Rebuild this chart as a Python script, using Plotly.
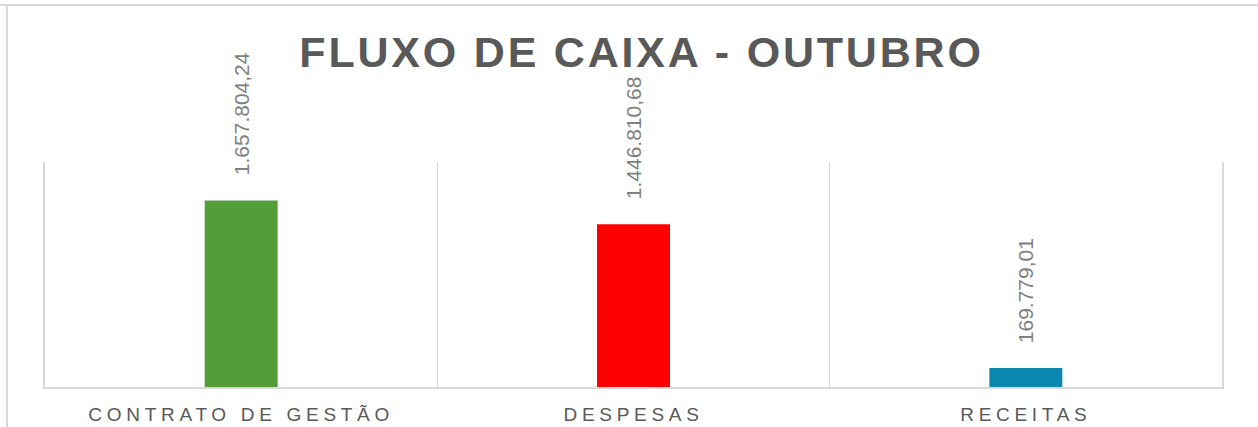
import plotly.graph_objects as go

categories = ["CONTRATO DE GESTÃO", "DESPESAS", "RECEITAS"]
values = [1657804.24, 1446810.68, 169779.01]
value_labels = ["1.657.804,24", "1.446.810,68", "169.779,01"]
colors = ["#549E39", "#FF0000", "#0C87B0"]
title_text = "FLUXO DE CAIXA - OUTUBRO"
y_max = 2000000

W, H = 1258, 427
L, R, T, B = 45, 36, 162, 40

fig = go.Figure()
fig.add_trace(go.Bar(
    x=categories, y=values, marker=dict(color=colors, line=dict(width=0)),
    width=0.186, hoverinfo="skip",
))

for c, v, t in zip(categories, values, value_labels):
    fig.add_annotation(
        x=c, y=v, text=t, textangle=-90, showarrow=False,
        xanchor="center", yanchor="bottom", yshift=23,
        font=dict(family="Liberation Sans, Arial", size=21, color="#7F7F7F"),
    )

ticktext = [f'<span style="letter-spacing:4.7px">{c}</span>' for c in categories]

fig.update_layout(
    width=W, height=H,
    margin=dict(l=L, r=R, t=T, b=B, autoexpand=False),
    paper_bgcolor="white", plot_bgcolor="white",
    showlegend=False,
    title=dict(
        text=f'<span style="letter-spacing:2.8px"><b>{title_text}</b></span>',
        x=641.5 / W, xanchor="center", xref="container",
        y=1 - 67 / H, yanchor="bottom", yref="container",
        font=dict(family="Liberation Sans, Arial", size=43, color="#595959"),
    ),
    xaxis=dict(
        type="category", tickmode="array", tickvals=categories, ticktext=ticktext,
        tickson="boundaries", showgrid=True, gridcolor="#D9D9D9", gridwidth=1.3,
        showline=True, linecolor="#D9D9D9", linewidth=2, ticks="",
        ticklabelstandoff=9, automargin=False,
        tickfont=dict(family="Liberation Sans, Arial", size=19, color="#595959"),
        range=[-0.5, 2.5], fixedrange=True,
    ),
    yaxis=dict(
        range=[0, y_max], showgrid=False, showticklabels=False, zeroline=False,
        showline=True, mirror=True, linecolor="#D9D9D9", linewidth=2, ticks="",
        automargin=False, fixedrange=True,
    ),
    shapes=[
        dict(type="line", xref="paper", yref="paper",
             x0=(0 - L) / (W - L - R), x1=(W - L) / (W - L - R),
             y0=(H - B - 5) / (H - T - B), y1=(H - B - 5) / (H - T - B),
             line=dict(color="#D9D9D9", width=2)),
        dict(type="line", xref="paper", yref="paper",
             x0=(7 - L) / (W - L - R), x1=(7 - L) / (W - L - R),
             y0=(H - B - 5) / (H - T - B), y1=(H - B - H) / (H - T - B),
             line=dict(color="#D9D9D9", width=2)),
    ],
)

fig.write_html(
    "out.html",
    config={"displayModeBar": False},
    post_script="document.body.style.margin='0';document.body.style.overflow='hidden';",
)
